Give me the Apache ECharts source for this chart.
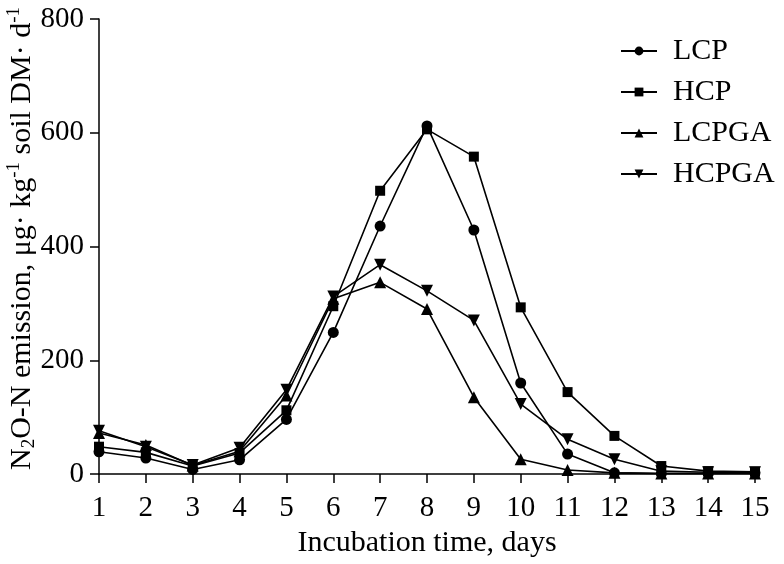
<!DOCTYPE html>
<html>
<head>
<meta charset="utf-8">
<script src="https://cdn.jsdelivr.net/npm/echarts@6/dist/echarts.min.js"></script>
<style>
  html, body { margin: 0; padding: 0; background: #fff; }
  #chart { width: 784px; height: 564px; }
</style>
</head>
<body>
<div id="chart"></div>
<script>
// 数据
const days = [1, 2, 3, 4, 5, 6, 7, 8, 9, 10, 11, 12, 13, 14, 15]
const lcp = [39, 28, 8, 25, 96, 249, 436, 612, 429, 160, 35, 2, 1, 1, 2]
const hcp = [48, 38, 14, 37, 112, 295, 498, 606, 558, 293, 144, 67, 14, 5, 4]
const lcpga = [72, 51, 15, 40, 138, 308, 337, 290, 135, 26, 7, 2, 1, 1, 1]
const hcpga = [76, 48, 16, 46, 148, 312, 368, 322, 270, 123, 61, 26, 5, 3, 3]

const font = 'Liberation Serif'

const chart = echarts.init(document.getElementById('chart'))

const makeSeries = (name, values, symbol, size, rotate) => ({
  name: name,
  type: 'line',
  data: days.map((d, i) => [d, values[i]]),
  symbol: symbol,
  symbolSize: size,
  symbolRotate: rotate || 0,
  showSymbol: true,
  lineStyle: { color: '#000', width: 1.6 },
  itemStyle: { color: '#000' },
  animation: false
})

const option = {
  backgroundColor: '#fff',
  grid: { left: 99, right: 29, top: 19, bottom: 90, outerBoundsMode: 'none' },
  legend: {
    orient: 'vertical',
    left: 615,
    top: 31,
    itemWidth: 36,
    itemHeight: 11,
    itemGap: 11,
    textStyle: { fontFamily: font, fontSize: 30, color: '#000', padding: [0, 0, 0, 11] },
    data: ['LCP', 'HCP', 'LCPGA', 'HCPGA']
  },
  xAxis: {
    type: 'value',
    min: 1,
    max: 15,
    interval: 1,
    name: 'Incubation time, days',
    nameLocation: 'middle',
    nameGap: 54,
    nameMoveOverlap: false,
    nameTextStyle: { fontFamily: font, fontSize: 30, color: '#000' },
    axisLine: { lineStyle: { color: '#000', width: 1.5 } },
    axisTick: { show: true, length: 9, lineStyle: { color: '#000', width: 1.5 } },
    axisLabel: { fontFamily: font, fontSize: 29, color: '#000', margin: 20 },
    splitLine: { show: false }
  },
  yAxis: {
    type: 'value',
    min: 0,
    max: 800,
    interval: 200,
    name: '{t|N}{sub|2}{t|O-N emission, μg· kg}{sup|-1}{t| soil DM· d}{sup|-1}',
    nameLocation: 'middle',
    nameGap: 60,
    nameMoveOverlap: false,
    nameTextStyle: {
      fontFamily: font,
      fontSize: 30,
      color: '#000',
      padding: [0, 0, 0, 16],
      rich: {
        t: { fontFamily: font, fontSize: 30, color: '#000', lineHeight: 34, verticalAlign: 'middle' },
        sub: { fontFamily: font, fontSize: 19, color: '#000', lineHeight: 34, verticalAlign: 'bottom' },
        sup: { fontFamily: font, fontSize: 19, color: '#000', lineHeight: 34, verticalAlign: 'top' }
      }
    },
    axisLine: { show: true, lineStyle: { color: '#000', width: 1.5 } },
    axisTick: { show: true, length: 9, lineStyle: { color: '#000', width: 1.5 } },
    axisLabel: { fontFamily: font, fontSize: 29, color: '#000', margin: 15 },
    splitLine: { show: false }
  },
  series: [
    makeSeries('LCP', lcp, 'circle', 11),
    makeSeries('HCP', hcp, 'rect', 10),
    makeSeries('LCPGA', lcpga, 'triangle', 12),
    makeSeries('HCPGA', hcpga, 'triangle', 12, 180)
  ]
}

chart.setOption(option)
</script>
</body>
</html>
